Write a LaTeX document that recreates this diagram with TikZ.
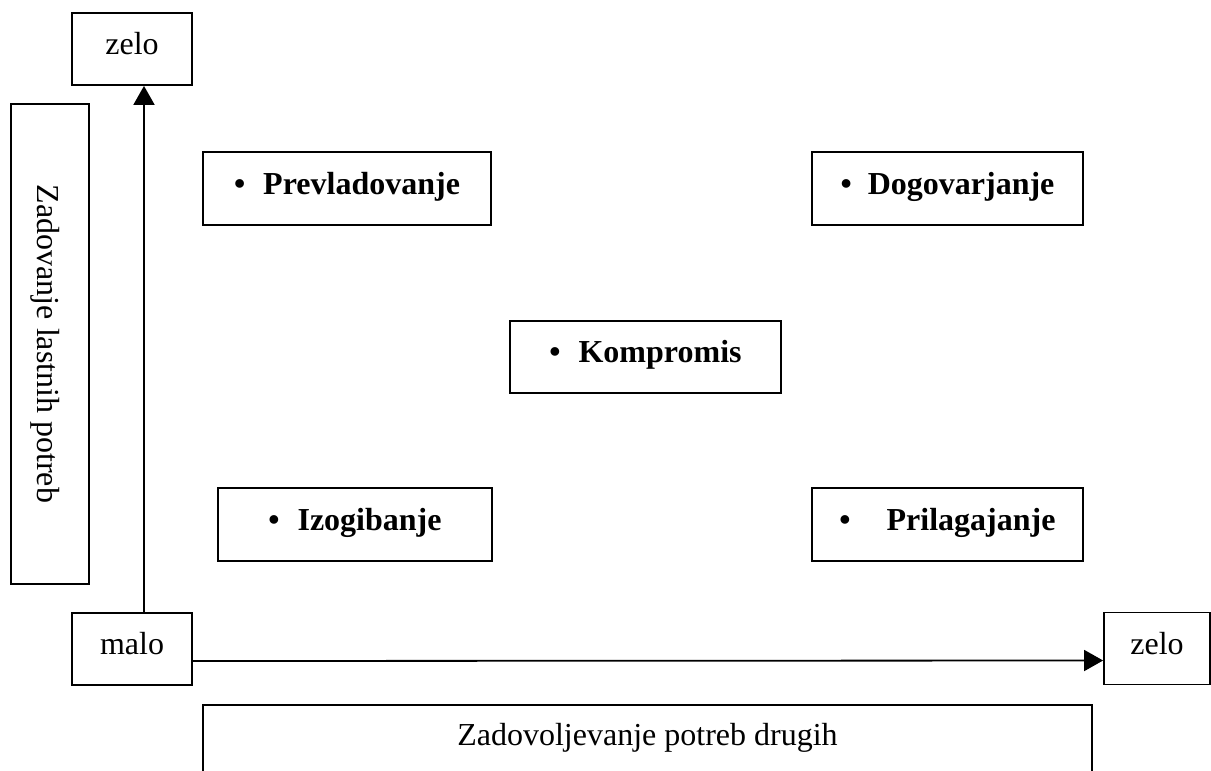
\documentclass[tikz,border=0pt]{standalone}
\usepackage{fontspec}
\setmainfont{Liberation Serif}
\usetikzlibrary{arrows.meta}

\tikzset{
  box/.style={draw, line width=0.9pt, inner sep=0pt, text height=10pt, text depth=4.5pt,
    font=\fontsize{16}{19}\selectfont},
  item/.style={box, font=\fontsize{16}{19}\selectfont\bfseries},
  axis/.style={line width=0.9pt, -{Triangle[width=10.5pt,length=9.5pt]}}
}

\begin{document}
\begin{tikzpicture}[x=0.5pt, y=-0.5pt]
        \useasboundingbox (0,0) rectangle (1211,771);
        \clip (0,0) rectangle (1211,771);

        % Axis ends
        \node[box, minimum width=60pt, minimum height=36pt] (zelotop) at (132,49) {zelo};
        \node[box, minimum width=60pt, minimum height=36pt] (malo) at (132,649) {malo};
        \node[box, minimum width=53pt, minimum height=36pt] (zeloright) at (1157,648.5) {zelo};

        % Axis titles
        \node[box, rotate=-90, minimum width=240pt, minimum height=39pt,
          text height=16pt, text depth=4pt] (own) at (50,344) {Zadovanje lastnih potreb};
        \node[box, minimum width=444.5pt, minimum height=34.5pt] (others) at (647.5,739.5) {Zadovoljevanje potreb drugih};

        % Styles
        \node[item, minimum width=144pt, minimum height=36.5pt] (prev) at (347,188.5) {\textbullet\hspace{9pt}Prevladovanje};
        \node[item, minimum width=135.5pt, minimum height=36.5pt] (dogov) at (947.5,188.5) {\textbullet\hspace{8pt}Dogovarjanje};
        \node[item, minimum width=135.5pt, minimum height=36pt] (komp) at (645.5,357) {\textbullet\hspace{9pt}Kompromis};
        \node[item, minimum width=137pt, minimum height=36.5pt] (izog) at (355,524.5) {\textbullet\hspace{9pt}Izogibanje};
        \node[item, minimum width=135.5pt, minimum height=36.5pt] (prilag) at (947.5,524.5) {\textbullet\hspace{18pt}Prilagajanje};

        % Arrows
        \draw[axis] ([xshift=6pt]malo.north) -- ([xshift=6pt]zelotop.south);
        \draw[axis] ([yshift=-6pt]malo.east) -- ([yshift=-6pt]zeloright.west);

\end{tikzpicture}
\end{document}
